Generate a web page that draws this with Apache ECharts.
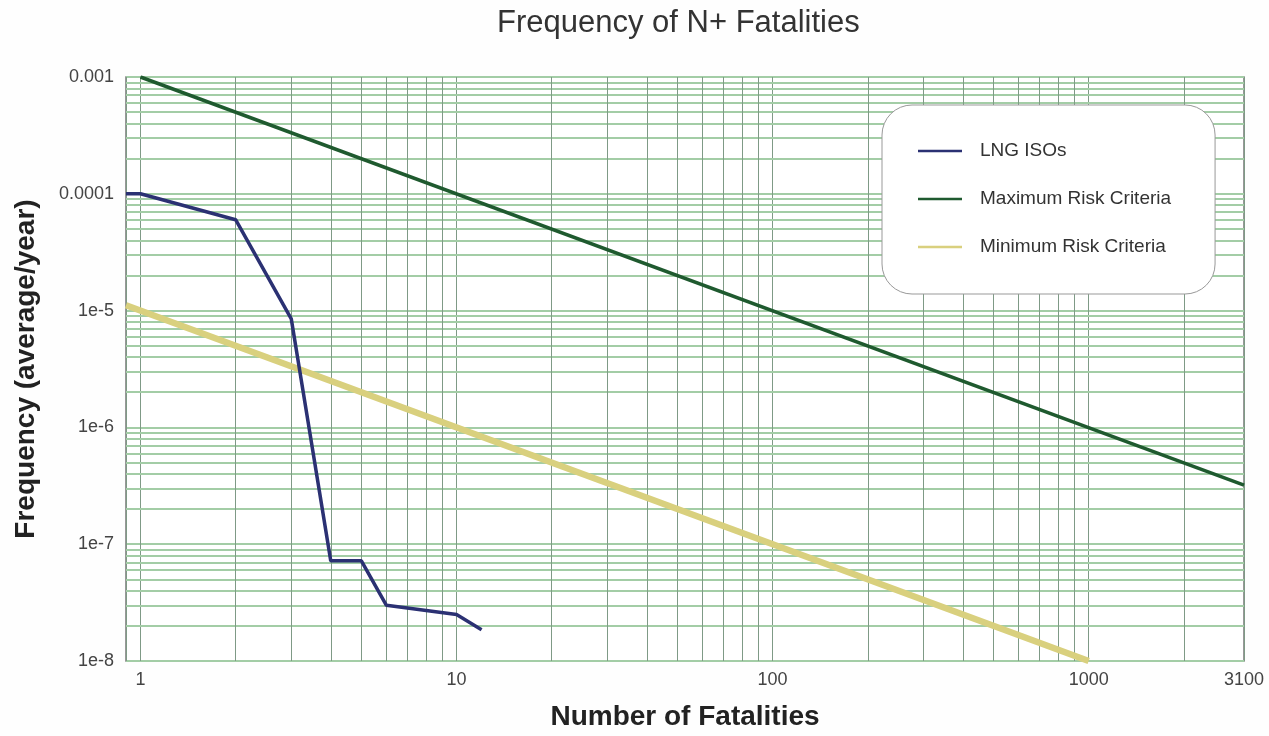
<!DOCTYPE html>
<html>
<head>
<meta charset="utf-8">
<script src="https://cdn.jsdelivr.net/npm/echarts@6/dist/echarts.min.js"></script>
<style>
html,body{margin:0;padding:0;background:#fefefe;}
#chart{width:1269px;height:736px;}
</style>
</head>
<body>
<div id="chart"></div>
<script>
// ---- data ----
const titleText = 'Frequency of N+ Fatalities';
const xName = 'Number of Fatalities';
const yName = 'Frequency (average/year)';
const seriesNames = ['LNG ISOs', 'Maximum Risk Criteria', 'Minimum Risk Criteria'];

const lngN = [0.9, 1, 2, 3, 4, 5, 6, 10, 12];
const lngF = [1e-4, 1e-4, 6e-5, 8.5e-6, 7.2e-8, 7.2e-8, 3e-8, 2.5e-8, 1.85e-8];

const maxN = [1, 3100];
const maxF = [1e-3, 3.2e-7];

const minN = [0.9, 1000];
const minF = [1.11e-5, 1e-8];

const xMin = 0.9, xMax = 3100;
const yMin = 1e-8, yMax = 1e-3;
const xTickLabels = {1: '1', 10: '10', 100: '100', 1000: '1000', 3100: '3100'};
const yTickLabels = ['1e-8', '1e-7', '1e-6', '1e-5', '0.0001', '0.001'];

// ---- minor grid positions (2..9 within each decade) ----
const xMinor = [];
[1, 10, 100, 1000].forEach(d => { for (let m = 2; m <= 9; m++) { const v = m * d; if (v <= 2000) xMinor.push(v); } });
const yMinor = [];
[1e-8, 1e-7, 1e-6, 1e-5, 1e-4].forEach(d => { for (let m = 2; m <= 9; m++) yMinor.push(m * d); });

const zip = (a, b) => a.map((v, i) => [v, b[i]]);

const font = 'Liberation Sans, Arial, Helvetica, sans-serif';
const colLNG = '#2b3173';
const colMax = '#1f5a2f';
const colMin = '#d9d07e';
const vGrid = '#7f9a86';
const hGrid = '#a3cda6';

const chart = echarts.init(document.getElementById('chart'));
chart.setOption({
  backgroundColor: '#fefefe',
  animation: false,
  title: {
    text: titleText,
    left: 492, top: 3,
    textStyle: {fontFamily: font, fontSize: 31, fontWeight: 'normal', color: '#333'}
  },
  grid: {left: 126, top: 77, right: 25, bottom: 72, show: true, borderColor: '#777', borderWidth: 1.5, backgroundColor: '#fff'},
  legend: {
    orient: 'vertical',
    left: 882, top: 105, z: 20,
    data: seriesNames.map(n => ({name: n})),
    icon: 'rect',
    itemWidth: 44, itemHeight: 2.5,
    itemGap: 28,
    padding: [36, 44, 37, 36],
    backgroundColor: '#fff',
    borderColor: '#999', borderWidth: 1, borderRadius: 30,
    textStyle: {fontFamily: font, fontSize: 19, color: '#333', padding: [0, 0, 0, 13], lineHeight: 20}
  },
  xAxis: {
    type: 'log', logBase: 10, min: xMin, max: xMax,
    name: xName, nameLocation: 'middle', nameGap: 42,
    nameTextStyle: {fontFamily: font, fontSize: 28, fontWeight: 'bold', color: '#222'},
    axisLine: {show: false},
    axisTick: {show: false},
    axisLabel: {
      fontFamily: font, fontSize: 18, color: '#444', margin: 10,
      formatter: v => { const r = Math.round(v); return (Math.abs(v - r) < 1e-6 && xTickLabels[r]) ? xTickLabels[r] : ''; }
    },
    splitLine: {show: true, lineStyle: {color: vGrid, width: 1}}
  },
  yAxis: {
    type: 'log', logBase: 10, min: yMin, max: yMax,
    name: yName, nameLocation: 'middle', nameGap: 86,
    nameTextStyle: {fontFamily: font, fontSize: 28, fontWeight: 'bold', color: '#222'},
    axisLine: {show: false},
    axisTick: {show: false},
    axisLabel: {
      fontFamily: font, fontSize: 18, color: '#444', margin: 12,
      formatter: v => { const e = Math.round(Math.log10(v)); return yTickLabels[e + 8] || ''; }
    },
    splitLine: {show: true, lineStyle: {color: hGrid, width: 2}}
  },
  series: [
    {
      name: '_hgrid', type: 'line', data: [], silent: true, z: 1,
      markLine: {
        silent: true, symbol: 'none', animation: false, z: 1,
        label: {show: false},
        lineStyle: {color: hGrid, width: 2, type: 'solid'},
        data: yMinor.map(v => [{coord: [xMin, v]}, {coord: [xMax, v]}])
      }
    },
    {
      name: '_vgrid', type: 'line', data: [], silent: true, z: 1,
      markLine: {
        silent: true, symbol: 'none', animation: false, z: 1,
        label: {show: false},
        lineStyle: {color: vGrid, width: 1, type: 'solid'},
        data: xMinor.map(v => [{coord: [v, yMin]}, {coord: [v, yMax]}])
      }
    },
    {
      name: seriesNames[2], type: 'line', data: zip(minN, minF), symbol: 'none', z: 3,
      lineStyle: {color: colMin, width: 6.5}, itemStyle: {color: colMin}
    },
    {
      name: seriesNames[1], type: 'line', data: zip(maxN, maxF), symbol: 'none', z: 4,
      lineStyle: {color: colMax, width: 3.5}, itemStyle: {color: colMax}
    },
    {
      name: seriesNames[0], type: 'line', data: zip(lngN, lngF), symbol: 'none', z: 5,
      lineStyle: {color: colLNG, width: 3.5}, itemStyle: {color: colLNG}
    }
  ]
});
</script>
</body>
</html>
